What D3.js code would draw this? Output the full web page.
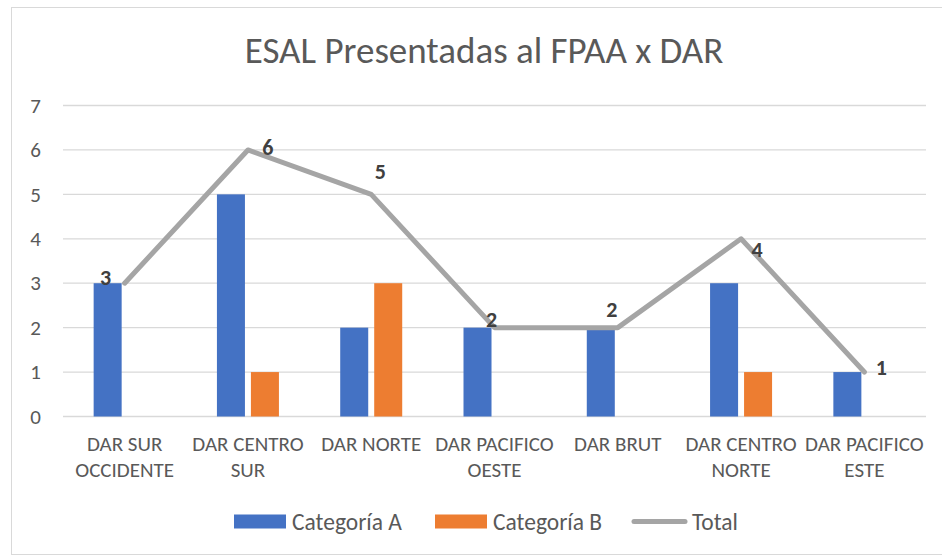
<!DOCTYPE html>
<html>
<head>
<meta charset="utf-8">
<script src="https://cdn.jsdelivr.net/npm/d3@7"></script>
<style>
  body { margin: 0; background: #fff; }
  svg { display: block; font-family: Carlito, Calibri, Lato, sans-serif; }
</style>
</head>
<body>
<svg id="chart" width="942" height="556"></svg>
<script>
// data
const categories = [
  ["DAR SUR", "OCCIDENTE"],
  ["DAR CENTRO", "SUR"],
  ["DAR NORTE"],
  ["DAR PACIFICO", "OESTE"],
  ["DAR BRUT"],
  ["DAR CENTRO", "NORTE"],
  ["DAR PACIFICO", "ESTE"]
]
const categoriaA = [3, 5, 2, 2, 2, 3, 1]
const categoriaB = [0, 1, 3, 0, 0, 1, 0]
const total = [3, 6, 5, 2, 2, 4, 1]
const yTicks = [0, 1, 2, 3, 4, 5, 6, 7]
const seriesNames = ["Categoría A", "Categoría B", "Total"]

// label nudges (labels were dragged around by hand in the original)
const labelNudge = [[-19, -6], [20, -3], [9, -23], [-3, -8], [-6, -18], [16, 11], [17, -5]]

const blue = "#4472C4", orange = "#ED7D31", grey = "#A5A5A5"
const textColor = "#595959"

const svg = d3.select("#chart")

// chart frame
svg.append("rect")
    .attr("x", 11.5).attr("y", 7.5)
    .attr("width", 960).attr("height", 547)
    .attr("fill", "none").attr("stroke", "#D9D9D9")

svg.append("text")
    .attr("x", 484).attr("y", 63)
    .attr("text-anchor", "middle")
    .attr("fill", textColor)
    .style("font-size", "37px")
    .text("ESAL Presentadas al FPAA x DAR")

const idx = d3.range(categories.length)
const x = d3.scaleBand().domain(idx).range([63, 926])
const xSub = d3.scaleBand().domain([0, 1])
    .range([-31, 31]).paddingInner(0.176)
const y = d3.scaleLinear().domain([0, 7]).range([416.5, 105.5])

// gridlines
svg.append("g")
    .selectAll("line")
    .data(yTicks)
    .join("line")
        .attr("x1", 63).attr("x2", 926)
        .attr("y1", d => y(d)).attr("y2", d => y(d))
        .attr("stroke", "#D9D9D9")
        .attr("stroke-width", 1.3)

// y axis labels
const yAxis = svg.append("g")
    .attr("transform", "translate(41,0)")
    .call(d3.axisLeft(y).tickValues(yTicks).tickFormat(d3.format("d")).tickSize(0).tickPadding(0))
yAxis.select(".domain").remove()
yAxis.selectAll("text")
    .attr("fill", textColor)
    .style("font-size", "21px")
    .style("font-family", "Carlito, Calibri, Lato, sans-serif")

// x axis labels
const xAxis = svg.append("g")
    .attr("transform", "translate(0,416)")
    .call(d3.axisBottom(x).tickSize(0).tickFormat(""))
xAxis.select(".domain").remove()
xAxis.selectAll(".tick").each(function(i) {
    const t = d3.select(this).append("text")
        .attr("fill", textColor)
        .attr("text-anchor", "middle")
        .style("font-size", "21px")
        .style("font-family", "Carlito, Calibri, Lato, sans-serif")
    categories[i].forEach((line, k) => {
        t.append("tspan").attr("x", 0).attr("y", 35 + k * 26).text(line)
    })
})

// bars
const groups = svg.append("g")
    .selectAll("g")
    .data(idx)
    .join("g")
        .attr("transform", i => "translate(" + (x(i) + x.bandwidth() / 2) + ",0)")

groups.selectAll("rect")
    .data(i => [categoriaA[i], categoriaB[i]])
    .join("rect")
        .attr("x", (d, k) => xSub(k))
        .attr("width", xSub.bandwidth())
        .attr("y", d => y(d))
        .attr("height", d => y(0) - y(d))
        .attr("fill", (d, k) => k === 0 ? blue : orange)

// total line
const line = d3.line()
    .x(i => x(i) + x.bandwidth() / 2)
    .y(i => y(total[i]))

svg.append("path")
    .datum(idx)
    .attr("d", line)
    .attr("fill", "none")
    .attr("stroke", grey)
    .attr("stroke-width", 5)
    .attr("stroke-linejoin", "round")
    .attr("stroke-linecap", "round")

svg.append("g")
    .selectAll("text")
    .data(idx)
    .join("text")
        .attr("x", i => x(i) + x.bandwidth() / 2 + labelNudge[i][0])
        .attr("y", i => y(total[i]) + labelNudge[i][1])
        .attr("dy", "0.35em")
        .attr("text-anchor", "middle")
        .attr("fill", "#404040")
        .style("font-size", "22px")
        .style("font-weight", "bold")
        .text(i => total[i])

// legend
const legendX = [234, 435, 632]
const legend = svg.append("g")
    .selectAll("g")
    .data(seriesNames)
    .join("g")
        .attr("transform", (d, k) => "translate(" + legendX[k] + ",521.5)")

legend.each(function(d, k) {
    const g = d3.select(this)
    if (k < 2) {
        g.append("rect")
            .attr("x", 0).attr("y", -7)
            .attr("width", 52).attr("height", 14)
            .attr("fill", k === 0 ? blue : orange)
    } else {
        g.append("line")
            .attr("x1", 2).attr("x2", 53)
            .attr("stroke", grey).attr("stroke-width", 5)
            .attr("stroke-linecap", "round")
    }
    g.append("text")
        .attr("x", k < 2 ? 58 : 60)
        .attr("dy", "0.35em")
        .attr("fill", textColor)
        .style("font-size", "23.5px")
        .text(d)
})
</script>
</body>
</html>
